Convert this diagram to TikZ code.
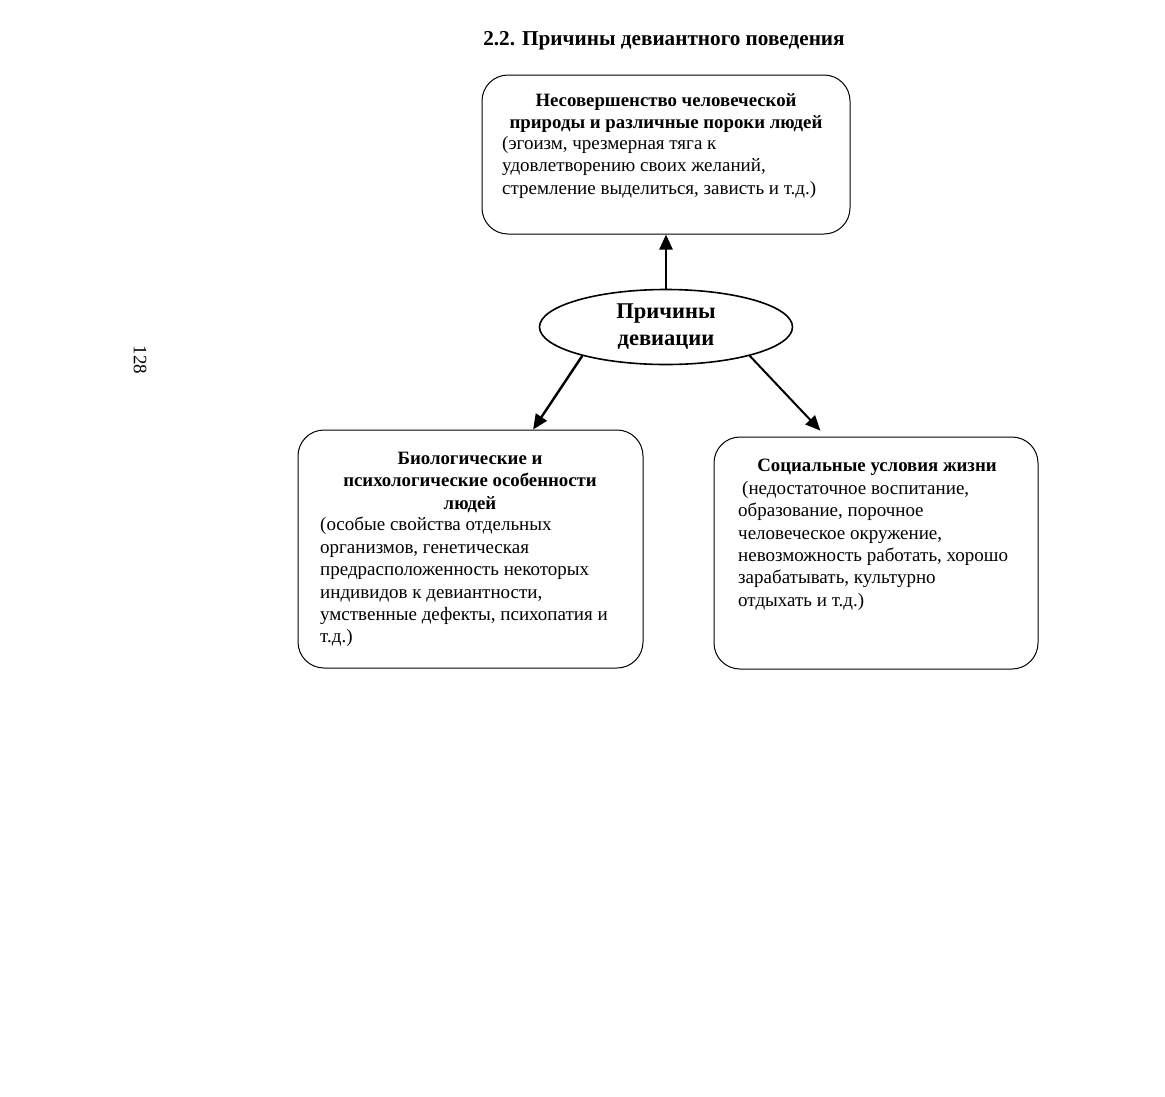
\documentclass[tikz,border=0pt]{standalone}
\usepackage{fontspec}
\setmainfont{Liberation Serif}
\usetikzlibrary{shapes.geometric,arrows.meta,calc}
\begin{document}
\begin{tikzpicture}[x=1pt,y=-1pt,
  box/.style={draw, line width=1pt, rounded corners=26pt, inner sep=0pt},
  ttl/.style={anchor=north, inner sep=0pt, align=center, font=\bfseries\fontsize{18.8}{22.4}\selectfont},
  body/.style={anchor=north west, inner sep=0pt, align=left, font=\fontsize{19}{22.4}\selectfont},
  arr/.style={line width=2.4pt, -{Triangle[length=15pt,width=13pt]}}]
\useasboundingbox (0,0) rectangle (1165,1096);
\node[anchor=base, inner sep=0pt, font=\bfseries\fontsize{21.2}{24}\selectfont] (title) at (664,45) {2.2. Причины девиантного поведения};
\node[box, minimum width=368pt, minimum height=159pt] (top) at (666,154.5) {};
\node[box, minimum width=345pt, minimum height=238pt] (lbox) at (470.5,549) {};
\node[box, minimum width=324pt, minimum height=232pt] (rbox) at (876,553) {};
\node[draw, ellipse, line width=1.6pt, minimum width=253pt, minimum height=75pt, inner sep=0pt, align=center, font=\bfseries\fontsize{22.5}{27}\selectfont] (center) at (666,327) {Причины\\девиации};
\node[ttl] (toptitle) at (666,93) {Несовершенство человеческой\\природы и различные пороки людей};
\node[body] (topbody) at (502,136) {(эгоизм, чрезмерная тяга к\\удовлетворению своих желаний,\\стремление выделиться, зависть и т.д.)};
\node[ttl] (ltitle) at (470,452) {Биологические и\\психологические особенности\\людей};
\node[body] (lbody) at (320,517) {(особые свойства отдельных\\организмов, генетическая\\предрасположенность некоторых\\индивидов к девиантности,\\умственные дефекты, психопатия и\\т.д.)};
\node[ttl] (rtitle) at (877,459) {Социальные условия жизни};
\node[body] (rbody) at (738,481) {\hspace{4pt}(недостаточное воспитание,\\образование, порочное\\человеческое окружение,\\невозможность работать, хорошо\\зарабатывать, культурно\\отдыхать и т.д.)};
\node[rotate=-90, inner sep=0pt, font=\fontsize{19}{19}\selectfont] (page) at (140,360) {128};
\draw[arr] (center.north) -- (top.south);
\draw[arr] (center.199) -- ($(lbox.north west)!0.681!(lbox.north east)$);
\draw[arr, line width=2pt, shorten >=8pt] (center.341) -- ($(rbox.north west)!0.346!(rbox.north east)$);
\end{tikzpicture}
\end{document}
